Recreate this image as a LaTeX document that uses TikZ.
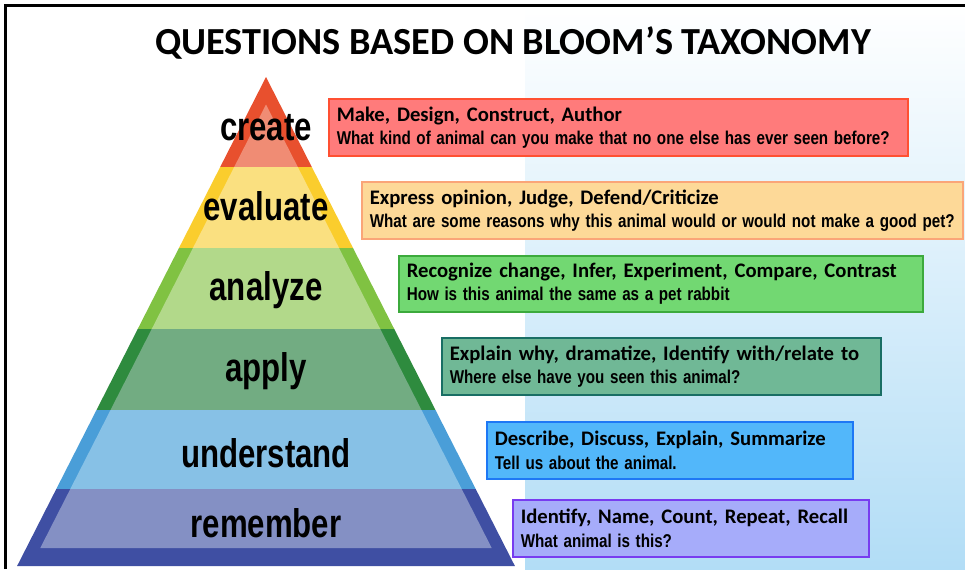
\documentclass[tikz,border=0pt]{standalone}
\usepackage{fontspec}
\setmainfont{Carlito}
\newfontfamily\narrowfont{Liberation Sans}
\newfontfamily\levelfont[FakeStretch=0.78]{Liberation Sans}
\usetikzlibrary{positioning}

\definecolor{crdark}{RGB}{232,80,46}
\definecolor{crlight}{RGB}{240,140,116}
\definecolor{evdark}{RGB}{250,205,45}
\definecolor{evlight}{RGB}{250,224,128}
\definecolor{andark}{RGB}{128,194,66}
\definecolor{anlight}{RGB}{178,217,138}
\definecolor{apdark}{RGB}{46,139,62}
\definecolor{aplight}{RGB}{114,172,130}
\definecolor{undark}{RGB}{74,158,216}
\definecolor{unlight}{RGB}{135,193,230}
\definecolor{redark}{RGB}{63,79,163}
\definecolor{relight}{RGB}{132,144,196}
\definecolor{skyblue}{RGB}{178,221,246}

\tikzset{
  levellabel/.style={anchor=base,inner sep=0pt,font=\levelfont\bfseries\fontsize{30}{33}\selectfont},
  qbox/.style={draw,line width=1.2pt,anchor=north west,inner xsep=6pt,inner ysep=0pt,
    align=left,minimum height=42.75pt,font=\fontsize{15.5}{17.3}\selectfont},
}
\newcommand{\qline}[1]{\scalebox{0.82}[1]{\narrowfont\bfseries\fontsize{13.9}{17.3}\selectfont #1}}

\begin{document}
\begin{tikzpicture}[x=0.75pt,y=0.75pt,yscale=-1,xscale=1]
\useasboundingbox (0,0) rectangle (965,569);

%Shape: Background
\shade [top color=white,bottom color=skyblue] (525,6) rectangle (965,569);
%Straight Lines: Frame
\draw [line width=1.8pt] (5.5,569) -- (5.5,5.5) -- (965,5.5);

% Text Node
\node [font=\bfseries\fontsize{28.7}{31}\selectfont,anchor=base,inner sep=0pt] (title) at (513,54) {QUESTIONS BASED ON BLOOM’S TAXONOMY};

%Shape: Pyramid layers
\foreach \top/\bot/\dark/\light/\itop/\ibot in {77/167/crdark/crlight/104.5/167,
    167/248/evdark/evlight/167/248, 248/329/andark/anlight/248/329,
    329/410/apdark/aplight/329/410, 410/489/undark/unlight/410/489,
    489/566/redark/relight/489/548}{
  \fill [\dark] ({266-(\top-77)*0.509},\top) -- ({266+(\top-77)*0.509},\top) -- ({266+(\bot-77)*0.509},\bot) -- ({266-(\bot-77)*0.509},\bot) -- cycle ;
  \fill [\light] ({266-(\itop-77)*0.509+14},\itop) -- ({266+(\itop-77)*0.509-14},\itop) -- ({266+(\ibot-77)*0.509-14},\ibot) -- ({266-(\ibot-77)*0.509+14},\ibot) -- cycle ;
}

% Text Node
\node [levellabel] (create) at (266,140) {create};
\node [levellabel] (evaluate) at (266,220) {evaluate};
\node [levellabel] (analyze) at (266,300) {analyze};
\node [levellabel] (apply) at (266,381) {apply};
\node [levellabel] (understand) at (266,467) {understand};
\node [levellabel] (remember) at (266,537) {remember};

%Shape: Question boxes
\node [qbox,fill={rgb,255:red,255;green,123;blue,123},draw={rgb,255:red,255;green,80;blue,50},text width=422.25pt] (createq) at (328,98)
  {\textbf{Make, Design, Construct, Author}\\\qline{What kind of animal can you make that no one else has ever seen before?}};
\node [qbox,fill={rgb,255:red,253;green,217;blue,152},draw={rgb,255:red,250;green,165;blue,120},text width=438.75pt] (evaluateq) at (361,181)
  {\textbf{Express opinion, Judge, Defend/Criticize}\\\qline{What are some reasons why this animal would or would not make a good pet?}};
\node [qbox,fill={rgb,255:red,114;green,216;blue,114},draw={rgb,255:red,60;green,170;blue,60},text width=381pt,minimum height=42pt] (analyzeq) at (398,255)
  {\textbf{Recognize change, Infer, Experiment, Compare, Contrast}\\\qline{How is this animal the same as a pet rabbit}};
\node [qbox,fill={rgb,255:red,112;green,184;blue,150},draw={rgb,255:red,25;green,110;blue,100},text width=317.25pt] (applyq) at (441,337)
  {\textbf{Explain why, dramatize, Identify with/relate to}\\\qline{Where else have you seen this animal?}};
\node [qbox,fill={rgb,255:red,82;green,183;blue,250},draw={rgb,255:red,30;green,120;blue,245},text width=262.5pt] (understandq) at (486,421)
  {\textbf{Describe, Discuss, Explain, Summarize}\\\qline{Tell us about the animal.}};
\node [qbox,fill={rgb,255:red,166;green,172;blue,250},draw={rgb,255:red,120;green,60;blue,240},text width=255pt] (rememberq) at (512,499)
  {\textbf{Identify, Name, Count, Repeat, Recall}\\\qline{What animal is this?}};

\end{tikzpicture}
\end{document}
